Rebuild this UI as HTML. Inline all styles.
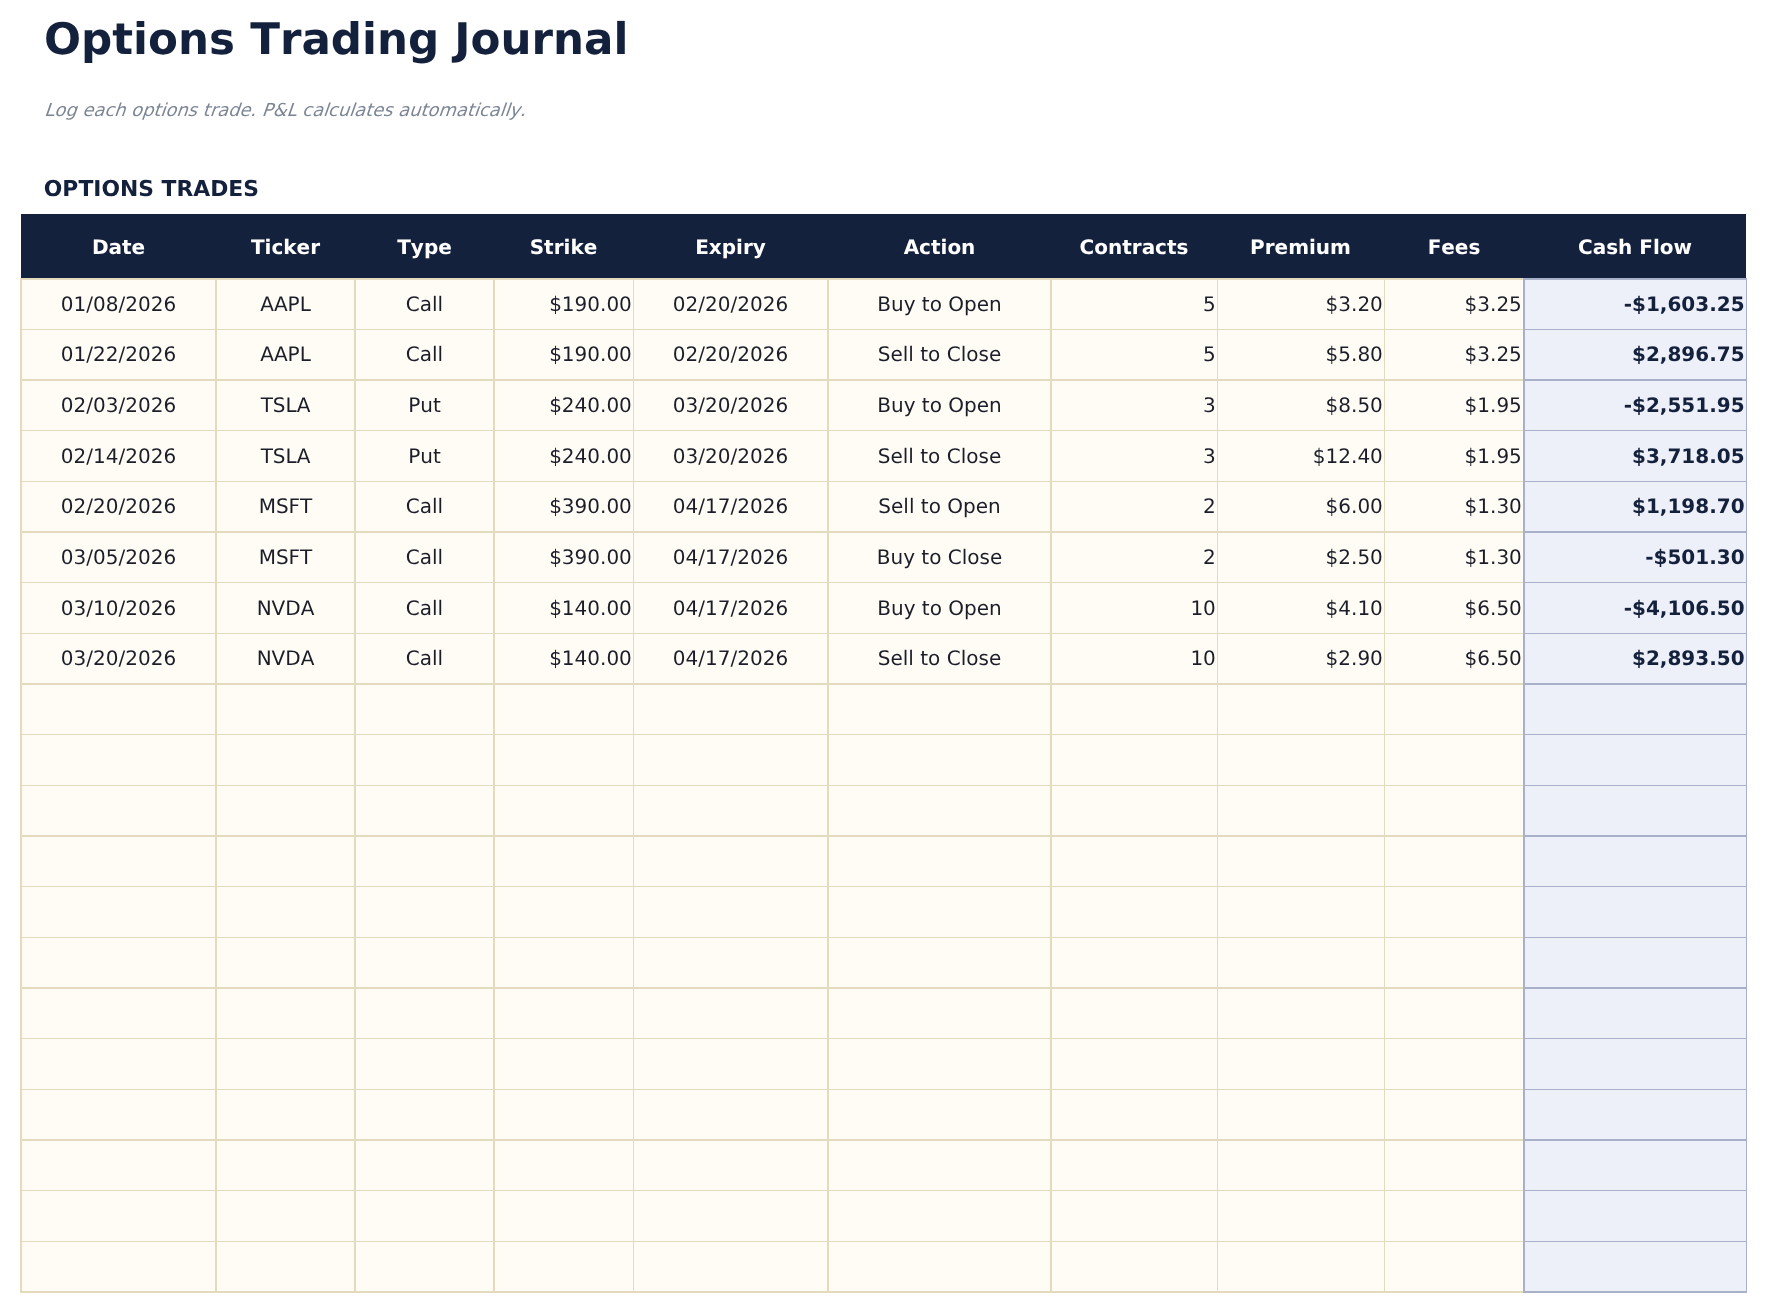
<!DOCTYPE html>
<html lang="en">
<head>
<meta charset="utf-8">
<title>Options Trading Journal</title>
<style>
html,body{margin:0;padding:0;background:#fff}
body{width:1767px;height:1313px;overflow:hidden}
#page{position:absolute;left:0;top:0;width:1767px;height:1313px;overflow:hidden;background:#fff;will-change:transform;font-family:"DejaVu Sans", "Liberation Sans", sans-serif;font-kerning:none;font-variant-ligatures:none;text-rendering:geometricPrecision}
.r{position:absolute}
.t{position:absolute;white-space:nowrap;margin:0;padding:0}
</style>
</head>
<body>
<div id="page">
<h1 class="t" style="left:44px;top:10px;width:800px;height:60px;line-height:60px;font-size:43.6px;text-align:left;font-weight:bold;color:#14213d;font-style:normal;">Options Trading Journal</h1>
<p class="t" style="left:44.1px;top:95px;width:800px;height:31px;line-height:31px;font-size:17.9px;text-align:left;font-weight:normal;color:#7c8595;font-style:normal;transform:skewX(-19.3deg);transform-origin:0 21px;">Log each options trade. P&amp;L calculates automatically.</p>
<h2 class="t" style="left:43.8px;top:172px;width:600px;height:35px;line-height:35px;font-size:21.85px;text-align:left;font-weight:bold;color:#14213d;font-style:normal;">OPTIONS TRADES</h2>
<div class="table" role="table" aria-label="Options trades">
<div class="grid" aria-hidden="true">
<div class="r" style="left:20px;top:278px;width:1503px;height:1015px;background:#fffcf5"></div>
<div class="r" style="left:1523px;top:278px;width:224px;height:1015px;background:#edf0f8"></div>
<div class="r" style="left:20px;top:278px;width:2px;height:1015px;background:#e4dabd"></div>
<div class="r" style="left:215px;top:278px;width:2px;height:1015px;background:#e4dabd"></div>
<div class="r" style="left:354px;top:278px;width:2px;height:1015px;background:#e4dabd"></div>
<div class="r" style="left:493px;top:278px;width:2px;height:1015px;background:#e4dabd"></div>
<div class="r" style="left:633px;top:278px;width:1px;height:1015px;background:#e4dabd"></div>
<div class="r" style="left:827px;top:278px;width:2px;height:1015px;background:#e4dabd"></div>
<div class="r" style="left:1050px;top:278px;width:2px;height:1015px;background:#e4dabd"></div>
<div class="r" style="left:1217px;top:278px;width:1px;height:1015px;background:#e4dabd"></div>
<div class="r" style="left:1384px;top:278px;width:1px;height:1015px;background:#e4dabd"></div>
<div class="r" style="left:20px;top:278px;width:1503px;height:2px;background:#e4dabd"></div>
<div class="r" style="left:20px;top:329px;width:1503px;height:1px;background:#e4dabd"></div>
<div class="r" style="left:20px;top:379px;width:1503px;height:2px;background:#e4dabd"></div>
<div class="r" style="left:20px;top:430px;width:1503px;height:1px;background:#e4dabd"></div>
<div class="r" style="left:20px;top:481px;width:1503px;height:1px;background:#e4dabd"></div>
<div class="r" style="left:20px;top:531px;width:1503px;height:2px;background:#e4dabd"></div>
<div class="r" style="left:20px;top:582px;width:1503px;height:1px;background:#e4dabd"></div>
<div class="r" style="left:20px;top:633px;width:1503px;height:1px;background:#e4dabd"></div>
<div class="r" style="left:20px;top:683px;width:1503px;height:2px;background:#e4dabd"></div>
<div class="r" style="left:20px;top:734px;width:1503px;height:1px;background:#e4dabd"></div>
<div class="r" style="left:20px;top:785px;width:1503px;height:1px;background:#e4dabd"></div>
<div class="r" style="left:20px;top:835px;width:1503px;height:2px;background:#e4dabd"></div>
<div class="r" style="left:20px;top:886px;width:1503px;height:1px;background:#e4dabd"></div>
<div class="r" style="left:20px;top:937px;width:1503px;height:1px;background:#e4dabd"></div>
<div class="r" style="left:20px;top:987px;width:1503px;height:2px;background:#e4dabd"></div>
<div class="r" style="left:20px;top:1038px;width:1503px;height:1px;background:#e4dabd"></div>
<div class="r" style="left:20px;top:1089px;width:1503px;height:1px;background:#e4dabd"></div>
<div class="r" style="left:20px;top:1139px;width:1503px;height:2px;background:#e4dabd"></div>
<div class="r" style="left:20px;top:1190px;width:1503px;height:1px;background:#e4dabd"></div>
<div class="r" style="left:20px;top:1241px;width:1503px;height:1px;background:#e4dabd"></div>
<div class="r" style="left:20px;top:1291px;width:1503px;height:2px;background:#e4dabd"></div>
<div class="r" style="left:1523px;top:278px;width:224px;height:2px;background:#a8b1c9"></div>
<div class="r" style="left:1523px;top:329px;width:224px;height:1px;background:#a8b1c9"></div>
<div class="r" style="left:1523px;top:379px;width:224px;height:2px;background:#a8b1c9"></div>
<div class="r" style="left:1523px;top:430px;width:224px;height:1px;background:#a8b1c9"></div>
<div class="r" style="left:1523px;top:481px;width:224px;height:1px;background:#a8b1c9"></div>
<div class="r" style="left:1523px;top:531px;width:224px;height:2px;background:#a8b1c9"></div>
<div class="r" style="left:1523px;top:582px;width:224px;height:1px;background:#a8b1c9"></div>
<div class="r" style="left:1523px;top:633px;width:224px;height:1px;background:#a8b1c9"></div>
<div class="r" style="left:1523px;top:683px;width:224px;height:2px;background:#a8b1c9"></div>
<div class="r" style="left:1523px;top:734px;width:224px;height:1px;background:#a8b1c9"></div>
<div class="r" style="left:1523px;top:785px;width:224px;height:1px;background:#a8b1c9"></div>
<div class="r" style="left:1523px;top:835px;width:224px;height:2px;background:#a8b1c9"></div>
<div class="r" style="left:1523px;top:886px;width:224px;height:1px;background:#a8b1c9"></div>
<div class="r" style="left:1523px;top:937px;width:224px;height:1px;background:#a8b1c9"></div>
<div class="r" style="left:1523px;top:987px;width:224px;height:2px;background:#a8b1c9"></div>
<div class="r" style="left:1523px;top:1038px;width:224px;height:1px;background:#a8b1c9"></div>
<div class="r" style="left:1523px;top:1089px;width:224px;height:1px;background:#a8b1c9"></div>
<div class="r" style="left:1523px;top:1139px;width:224px;height:2px;background:#a8b1c9"></div>
<div class="r" style="left:1523px;top:1190px;width:224px;height:1px;background:#a8b1c9"></div>
<div class="r" style="left:1523px;top:1241px;width:224px;height:1px;background:#a8b1c9"></div>
<div class="r" style="left:1523px;top:1291px;width:224px;height:2px;background:#a8b1c9"></div>
<div class="r" style="left:1523px;top:278px;width:2px;height:1015px;background:#a8b1c9"></div>
<div class="r" style="left:1746px;top:278px;width:1px;height:1015px;background:#a8b1c9"></div>
</div>
<div class="thead" role="row">
<div class="r" style="left:21px;top:214px;width:1725px;height:64px;background:#14213d"></div>
<div class="t" role="columnheader" style="left:21px;top:230px;width:195px;height:34px;line-height:34px;font-size:20px;text-align:center;font-weight:bold;color:#ffffff;font-style:normal;">Date</div>
<div class="t" role="columnheader" style="left:216px;top:230px;width:139px;height:34px;line-height:34px;font-size:20px;text-align:center;font-weight:bold;color:#ffffff;font-style:normal;">Ticker</div>
<div class="t" role="columnheader" style="left:355px;top:230px;width:139px;height:34px;line-height:34px;font-size:20px;text-align:center;font-weight:bold;color:#ffffff;font-style:normal;">Type</div>
<div class="t" role="columnheader" style="left:494px;top:230px;width:139px;height:34px;line-height:34px;font-size:20px;text-align:center;font-weight:bold;color:#ffffff;font-style:normal;">Strike</div>
<div class="t" role="columnheader" style="left:633px;top:230px;width:195px;height:34px;line-height:34px;font-size:20px;text-align:center;font-weight:bold;color:#ffffff;font-style:normal;">Expiry</div>
<div class="t" role="columnheader" style="left:828px;top:230px;width:223px;height:34px;line-height:34px;font-size:20px;text-align:center;font-weight:bold;color:#ffffff;font-style:normal;">Action</div>
<div class="t" role="columnheader" style="left:1051px;top:230px;width:166px;height:34px;line-height:34px;font-size:20px;text-align:center;font-weight:bold;color:#ffffff;font-style:normal;">Contracts</div>
<div class="t" role="columnheader" style="left:1217px;top:230px;width:167px;height:34px;line-height:34px;font-size:20px;text-align:center;font-weight:bold;color:#ffffff;font-style:normal;">Premium</div>
<div class="t" role="columnheader" style="left:1384px;top:230px;width:140px;height:34px;line-height:34px;font-size:20px;text-align:center;font-weight:bold;color:#ffffff;font-style:normal;">Fees</div>
<div class="t" role="columnheader" style="left:1524px;top:230px;width:222px;height:34px;line-height:34px;font-size:20px;text-align:center;font-weight:bold;color:#ffffff;font-style:normal;">Cash Flow</div>
</div>
<div class="tr" role="row">
<div class="t" role="cell" style="left:21px;top:287px;width:195px;height:34px;line-height:34px;font-size:20px;text-align:center;font-weight:normal;color:#1b1e28;font-style:normal;">01/08/2026</div>
<div class="t" role="cell" style="left:216px;top:287px;width:139px;height:34px;line-height:34px;font-size:20px;text-align:center;font-weight:normal;color:#1b1e28;font-style:normal;">AAPL</div>
<div class="t" role="cell" style="left:355px;top:287px;width:139px;height:34px;line-height:34px;font-size:20px;text-align:center;font-weight:normal;color:#1b1e28;font-style:normal;">Call</div>
<div class="t" role="cell" style="left:494px;top:287px;width:137.85px;height:34px;line-height:34px;font-size:20px;text-align:right;font-weight:normal;color:#1b1e28;font-style:normal;">$190.00</div>
<div class="t" role="cell" style="left:633px;top:287px;width:195px;height:34px;line-height:34px;font-size:20px;text-align:center;font-weight:normal;color:#1b1e28;font-style:normal;">02/20/2026</div>
<div class="t" role="cell" style="left:828px;top:287px;width:223px;height:34px;line-height:34px;font-size:20px;text-align:center;font-weight:normal;color:#1b1e28;font-style:normal;">Buy to Open</div>
<div class="t" role="cell" style="left:1051px;top:287px;width:164.85px;height:34px;line-height:34px;font-size:20px;text-align:right;font-weight:normal;color:#1b1e28;font-style:normal;">5</div>
<div class="t" role="cell" style="left:1217px;top:287px;width:165.85px;height:34px;line-height:34px;font-size:20px;text-align:right;font-weight:normal;color:#1b1e28;font-style:normal;">$3.20</div>
<div class="t" role="cell" style="left:1384px;top:287px;width:137.85px;height:34px;line-height:34px;font-size:20px;text-align:right;font-weight:normal;color:#1b1e28;font-style:normal;">$3.25</div>
<div class="t" role="cell" style="left:1524px;top:287px;width:220.64px;height:34px;line-height:34px;font-size:20px;text-align:right;font-weight:bold;color:#14213d;font-style:normal;">-$1,603.25</div>
</div>
<div class="tr" role="row">
<div class="t" role="cell" style="left:21px;top:337px;width:195px;height:34px;line-height:34px;font-size:20px;text-align:center;font-weight:normal;color:#1b1e28;font-style:normal;">01/22/2026</div>
<div class="t" role="cell" style="left:216px;top:337px;width:139px;height:34px;line-height:34px;font-size:20px;text-align:center;font-weight:normal;color:#1b1e28;font-style:normal;">AAPL</div>
<div class="t" role="cell" style="left:355px;top:337px;width:139px;height:34px;line-height:34px;font-size:20px;text-align:center;font-weight:normal;color:#1b1e28;font-style:normal;">Call</div>
<div class="t" role="cell" style="left:494px;top:337px;width:137.85px;height:34px;line-height:34px;font-size:20px;text-align:right;font-weight:normal;color:#1b1e28;font-style:normal;">$190.00</div>
<div class="t" role="cell" style="left:633px;top:337px;width:195px;height:34px;line-height:34px;font-size:20px;text-align:center;font-weight:normal;color:#1b1e28;font-style:normal;">02/20/2026</div>
<div class="t" role="cell" style="left:828px;top:337px;width:223px;height:34px;line-height:34px;font-size:20px;text-align:center;font-weight:normal;color:#1b1e28;font-style:normal;">Sell to Close</div>
<div class="t" role="cell" style="left:1051px;top:337px;width:164.85px;height:34px;line-height:34px;font-size:20px;text-align:right;font-weight:normal;color:#1b1e28;font-style:normal;">5</div>
<div class="t" role="cell" style="left:1217px;top:337px;width:165.85px;height:34px;line-height:34px;font-size:20px;text-align:right;font-weight:normal;color:#1b1e28;font-style:normal;">$5.80</div>
<div class="t" role="cell" style="left:1384px;top:337px;width:137.85px;height:34px;line-height:34px;font-size:20px;text-align:right;font-weight:normal;color:#1b1e28;font-style:normal;">$3.25</div>
<div class="t" role="cell" style="left:1524px;top:337px;width:220.64px;height:34px;line-height:34px;font-size:20px;text-align:right;font-weight:bold;color:#14213d;font-style:normal;">$2,896.75</div>
</div>
<div class="tr" role="row">
<div class="t" role="cell" style="left:21px;top:388px;width:195px;height:34px;line-height:34px;font-size:20px;text-align:center;font-weight:normal;color:#1b1e28;font-style:normal;">02/03/2026</div>
<div class="t" role="cell" style="left:216px;top:388px;width:139px;height:34px;line-height:34px;font-size:20px;text-align:center;font-weight:normal;color:#1b1e28;font-style:normal;">TSLA</div>
<div class="t" role="cell" style="left:355px;top:388px;width:139px;height:34px;line-height:34px;font-size:20px;text-align:center;font-weight:normal;color:#1b1e28;font-style:normal;">Put</div>
<div class="t" role="cell" style="left:494px;top:388px;width:137.85px;height:34px;line-height:34px;font-size:20px;text-align:right;font-weight:normal;color:#1b1e28;font-style:normal;">$240.00</div>
<div class="t" role="cell" style="left:633px;top:388px;width:195px;height:34px;line-height:34px;font-size:20px;text-align:center;font-weight:normal;color:#1b1e28;font-style:normal;">03/20/2026</div>
<div class="t" role="cell" style="left:828px;top:388px;width:223px;height:34px;line-height:34px;font-size:20px;text-align:center;font-weight:normal;color:#1b1e28;font-style:normal;">Buy to Open</div>
<div class="t" role="cell" style="left:1051px;top:388px;width:164.85px;height:34px;line-height:34px;font-size:20px;text-align:right;font-weight:normal;color:#1b1e28;font-style:normal;">3</div>
<div class="t" role="cell" style="left:1217px;top:388px;width:165.85px;height:34px;line-height:34px;font-size:20px;text-align:right;font-weight:normal;color:#1b1e28;font-style:normal;">$8.50</div>
<div class="t" role="cell" style="left:1384px;top:388px;width:137.85px;height:34px;line-height:34px;font-size:20px;text-align:right;font-weight:normal;color:#1b1e28;font-style:normal;">$1.95</div>
<div class="t" role="cell" style="left:1524px;top:388px;width:220.64px;height:34px;line-height:34px;font-size:20px;text-align:right;font-weight:bold;color:#14213d;font-style:normal;">-$2,551.95</div>
</div>
<div class="tr" role="row">
<div class="t" role="cell" style="left:21px;top:439px;width:195px;height:34px;line-height:34px;font-size:20px;text-align:center;font-weight:normal;color:#1b1e28;font-style:normal;">02/14/2026</div>
<div class="t" role="cell" style="left:216px;top:439px;width:139px;height:34px;line-height:34px;font-size:20px;text-align:center;font-weight:normal;color:#1b1e28;font-style:normal;">TSLA</div>
<div class="t" role="cell" style="left:355px;top:439px;width:139px;height:34px;line-height:34px;font-size:20px;text-align:center;font-weight:normal;color:#1b1e28;font-style:normal;">Put</div>
<div class="t" role="cell" style="left:494px;top:439px;width:137.85px;height:34px;line-height:34px;font-size:20px;text-align:right;font-weight:normal;color:#1b1e28;font-style:normal;">$240.00</div>
<div class="t" role="cell" style="left:633px;top:439px;width:195px;height:34px;line-height:34px;font-size:20px;text-align:center;font-weight:normal;color:#1b1e28;font-style:normal;">03/20/2026</div>
<div class="t" role="cell" style="left:828px;top:439px;width:223px;height:34px;line-height:34px;font-size:20px;text-align:center;font-weight:normal;color:#1b1e28;font-style:normal;">Sell to Close</div>
<div class="t" role="cell" style="left:1051px;top:439px;width:164.85px;height:34px;line-height:34px;font-size:20px;text-align:right;font-weight:normal;color:#1b1e28;font-style:normal;">3</div>
<div class="t" role="cell" style="left:1217px;top:439px;width:165.85px;height:34px;line-height:34px;font-size:20px;text-align:right;font-weight:normal;color:#1b1e28;font-style:normal;">$12.40</div>
<div class="t" role="cell" style="left:1384px;top:439px;width:137.85px;height:34px;line-height:34px;font-size:20px;text-align:right;font-weight:normal;color:#1b1e28;font-style:normal;">$1.95</div>
<div class="t" role="cell" style="left:1524px;top:439px;width:220.64px;height:34px;line-height:34px;font-size:20px;text-align:right;font-weight:bold;color:#14213d;font-style:normal;">$3,718.05</div>
</div>
<div class="tr" role="row">
<div class="t" role="cell" style="left:21px;top:489px;width:195px;height:34px;line-height:34px;font-size:20px;text-align:center;font-weight:normal;color:#1b1e28;font-style:normal;">02/20/2026</div>
<div class="t" role="cell" style="left:216px;top:489px;width:139px;height:34px;line-height:34px;font-size:20px;text-align:center;font-weight:normal;color:#1b1e28;font-style:normal;">MSFT</div>
<div class="t" role="cell" style="left:355px;top:489px;width:139px;height:34px;line-height:34px;font-size:20px;text-align:center;font-weight:normal;color:#1b1e28;font-style:normal;">Call</div>
<div class="t" role="cell" style="left:494px;top:489px;width:137.85px;height:34px;line-height:34px;font-size:20px;text-align:right;font-weight:normal;color:#1b1e28;font-style:normal;">$390.00</div>
<div class="t" role="cell" style="left:633px;top:489px;width:195px;height:34px;line-height:34px;font-size:20px;text-align:center;font-weight:normal;color:#1b1e28;font-style:normal;">04/17/2026</div>
<div class="t" role="cell" style="left:828px;top:489px;width:223px;height:34px;line-height:34px;font-size:20px;text-align:center;font-weight:normal;color:#1b1e28;font-style:normal;">Sell to Open</div>
<div class="t" role="cell" style="left:1051px;top:489px;width:164.85px;height:34px;line-height:34px;font-size:20px;text-align:right;font-weight:normal;color:#1b1e28;font-style:normal;">2</div>
<div class="t" role="cell" style="left:1217px;top:489px;width:165.85px;height:34px;line-height:34px;font-size:20px;text-align:right;font-weight:normal;color:#1b1e28;font-style:normal;">$6.00</div>
<div class="t" role="cell" style="left:1384px;top:489px;width:137.85px;height:34px;line-height:34px;font-size:20px;text-align:right;font-weight:normal;color:#1b1e28;font-style:normal;">$1.30</div>
<div class="t" role="cell" style="left:1524px;top:489px;width:220.64px;height:34px;line-height:34px;font-size:20px;text-align:right;font-weight:bold;color:#14213d;font-style:normal;">$1,198.70</div>
</div>
<div class="tr" role="row">
<div class="t" role="cell" style="left:21px;top:540px;width:195px;height:34px;line-height:34px;font-size:20px;text-align:center;font-weight:normal;color:#1b1e28;font-style:normal;">03/05/2026</div>
<div class="t" role="cell" style="left:216px;top:540px;width:139px;height:34px;line-height:34px;font-size:20px;text-align:center;font-weight:normal;color:#1b1e28;font-style:normal;">MSFT</div>
<div class="t" role="cell" style="left:355px;top:540px;width:139px;height:34px;line-height:34px;font-size:20px;text-align:center;font-weight:normal;color:#1b1e28;font-style:normal;">Call</div>
<div class="t" role="cell" style="left:494px;top:540px;width:137.85px;height:34px;line-height:34px;font-size:20px;text-align:right;font-weight:normal;color:#1b1e28;font-style:normal;">$390.00</div>
<div class="t" role="cell" style="left:633px;top:540px;width:195px;height:34px;line-height:34px;font-size:20px;text-align:center;font-weight:normal;color:#1b1e28;font-style:normal;">04/17/2026</div>
<div class="t" role="cell" style="left:828px;top:540px;width:223px;height:34px;line-height:34px;font-size:20px;text-align:center;font-weight:normal;color:#1b1e28;font-style:normal;">Buy to Close</div>
<div class="t" role="cell" style="left:1051px;top:540px;width:164.85px;height:34px;line-height:34px;font-size:20px;text-align:right;font-weight:normal;color:#1b1e28;font-style:normal;">2</div>
<div class="t" role="cell" style="left:1217px;top:540px;width:165.85px;height:34px;line-height:34px;font-size:20px;text-align:right;font-weight:normal;color:#1b1e28;font-style:normal;">$2.50</div>
<div class="t" role="cell" style="left:1384px;top:540px;width:137.85px;height:34px;line-height:34px;font-size:20px;text-align:right;font-weight:normal;color:#1b1e28;font-style:normal;">$1.30</div>
<div class="t" role="cell" style="left:1524px;top:540px;width:220.64px;height:34px;line-height:34px;font-size:20px;text-align:right;font-weight:bold;color:#14213d;font-style:normal;">-$501.30</div>
</div>
<div class="tr" role="row">
<div class="t" role="cell" style="left:21px;top:591px;width:195px;height:34px;line-height:34px;font-size:20px;text-align:center;font-weight:normal;color:#1b1e28;font-style:normal;">03/10/2026</div>
<div class="t" role="cell" style="left:216px;top:591px;width:139px;height:34px;line-height:34px;font-size:20px;text-align:center;font-weight:normal;color:#1b1e28;font-style:normal;">NVDA</div>
<div class="t" role="cell" style="left:355px;top:591px;width:139px;height:34px;line-height:34px;font-size:20px;text-align:center;font-weight:normal;color:#1b1e28;font-style:normal;">Call</div>
<div class="t" role="cell" style="left:494px;top:591px;width:137.85px;height:34px;line-height:34px;font-size:20px;text-align:right;font-weight:normal;color:#1b1e28;font-style:normal;">$140.00</div>
<div class="t" role="cell" style="left:633px;top:591px;width:195px;height:34px;line-height:34px;font-size:20px;text-align:center;font-weight:normal;color:#1b1e28;font-style:normal;">04/17/2026</div>
<div class="t" role="cell" style="left:828px;top:591px;width:223px;height:34px;line-height:34px;font-size:20px;text-align:center;font-weight:normal;color:#1b1e28;font-style:normal;">Buy to Open</div>
<div class="t" role="cell" style="left:1051px;top:591px;width:164.85px;height:34px;line-height:34px;font-size:20px;text-align:right;font-weight:normal;color:#1b1e28;font-style:normal;">10</div>
<div class="t" role="cell" style="left:1217px;top:591px;width:165.85px;height:34px;line-height:34px;font-size:20px;text-align:right;font-weight:normal;color:#1b1e28;font-style:normal;">$4.10</div>
<div class="t" role="cell" style="left:1384px;top:591px;width:137.85px;height:34px;line-height:34px;font-size:20px;text-align:right;font-weight:normal;color:#1b1e28;font-style:normal;">$6.50</div>
<div class="t" role="cell" style="left:1524px;top:591px;width:220.64px;height:34px;line-height:34px;font-size:20px;text-align:right;font-weight:bold;color:#14213d;font-style:normal;">-$4,106.50</div>
</div>
<div class="tr" role="row">
<div class="t" role="cell" style="left:21px;top:641px;width:195px;height:34px;line-height:34px;font-size:20px;text-align:center;font-weight:normal;color:#1b1e28;font-style:normal;">03/20/2026</div>
<div class="t" role="cell" style="left:216px;top:641px;width:139px;height:34px;line-height:34px;font-size:20px;text-align:center;font-weight:normal;color:#1b1e28;font-style:normal;">NVDA</div>
<div class="t" role="cell" style="left:355px;top:641px;width:139px;height:34px;line-height:34px;font-size:20px;text-align:center;font-weight:normal;color:#1b1e28;font-style:normal;">Call</div>
<div class="t" role="cell" style="left:494px;top:641px;width:137.85px;height:34px;line-height:34px;font-size:20px;text-align:right;font-weight:normal;color:#1b1e28;font-style:normal;">$140.00</div>
<div class="t" role="cell" style="left:633px;top:641px;width:195px;height:34px;line-height:34px;font-size:20px;text-align:center;font-weight:normal;color:#1b1e28;font-style:normal;">04/17/2026</div>
<div class="t" role="cell" style="left:828px;top:641px;width:223px;height:34px;line-height:34px;font-size:20px;text-align:center;font-weight:normal;color:#1b1e28;font-style:normal;">Sell to Close</div>
<div class="t" role="cell" style="left:1051px;top:641px;width:164.85px;height:34px;line-height:34px;font-size:20px;text-align:right;font-weight:normal;color:#1b1e28;font-style:normal;">10</div>
<div class="t" role="cell" style="left:1217px;top:641px;width:165.85px;height:34px;line-height:34px;font-size:20px;text-align:right;font-weight:normal;color:#1b1e28;font-style:normal;">$2.90</div>
<div class="t" role="cell" style="left:1384px;top:641px;width:137.85px;height:34px;line-height:34px;font-size:20px;text-align:right;font-weight:normal;color:#1b1e28;font-style:normal;">$6.50</div>
<div class="t" role="cell" style="left:1524px;top:641px;width:220.64px;height:34px;line-height:34px;font-size:20px;text-align:right;font-weight:bold;color:#14213d;font-style:normal;">$2,893.50</div>
</div>
</div>
</div>
</body>
</html>
